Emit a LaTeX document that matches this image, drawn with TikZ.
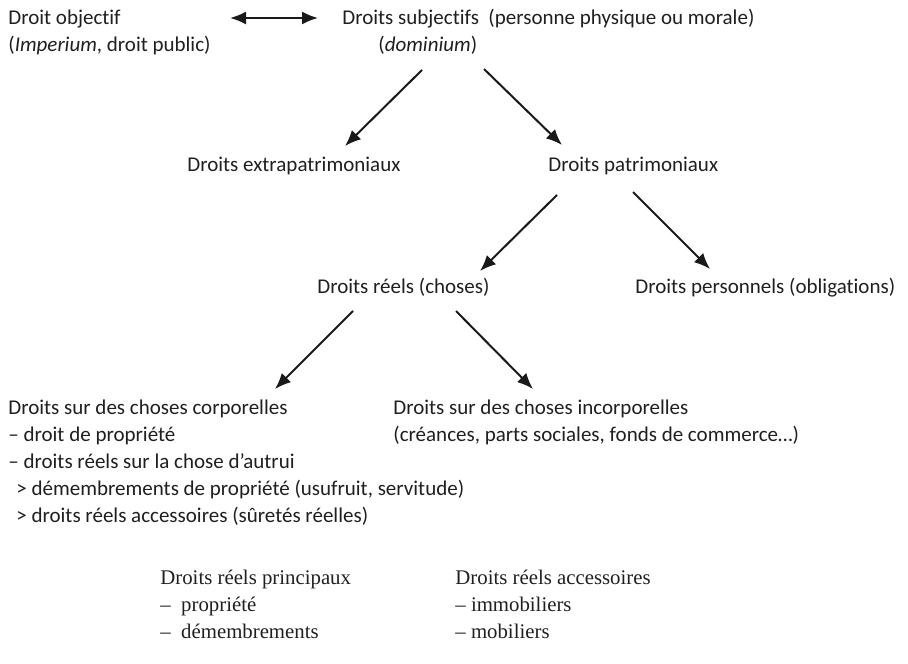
\documentclass[tikz,border=0pt]{standalone}
\usepackage{fontspec}
\setmainfont{Carlito}[Ligatures=NoCommon]
\newfontfamily\bookfont{Liberation Serif}
\usetikzlibrary{arrows.meta}
% base = baseline of the last line of a node
\tikzstyle{droit}=[inner sep=0pt, anchor=base west, align=left, text=black!88, font=\fontsize{10.5}{13.5}\selectfont]
\tikzstyle{droit livre}=[droit, font=\bookfont\fontsize{10.4}{13.5}\selectfont]
\tikzstyle{branch}=[->, line width=1pt, black!90]

\begin{document}
\begin{tikzpicture}[>={Latex[length=8pt,width=6.5pt]}, x=0.5pt, y=-0.5pt]
    \useasboundingbox (0,0) rectangle (908,663);

    % Droit objectif / droits subjectifs
    \draw (8,52) node[droit] (obj) {Droit objectif\\(\textit{Imperium}, droit public)};
    \draw (342,52) node[droit] (subj) {Droits subjectifs~ (personne physique ou morale)\\\hspace*{18pt}(\textit{dominium})};

    % Patrimoine
    \draw (187,171) node[droit] (extra) {Droits extrapatrimoniaux};
    \draw (548,171) node[droit] (patri) {Droits patrimoniaux};
    \draw (317,293) node[droit] (reels) {Droits réels (choses)};
    \draw (635,293) node[droit] (perso) {Droits personnels (obligations)};

    % Choses
    \draw (8,522) node[droit] (corp) {Droits sur des choses corporelles\\
      – droit de propriété\\
      – droits réels sur la chose d’autrui\\
      \hspace*{4pt}> démembrements de propriété (usufruit, servitude)\\
      \hspace*{4pt}> droits réels accessoires (sûretés réelles)};
    \draw (393,441) node[droit] (incorp) {Droits sur des choses incorporelles\\
      (créances, parts sociales, fonds de commerce…)};

    % Droits reels principaux / accessoires
    \draw (160,638) node[droit livre] (princ) {Droits réels principaux\\–\enspace propriété\\–\enspace démembrements};
    \draw (455,638) node[droit livre] (access) {Droits réels accessoires\\– immobiliers\\– mobiliers};

    % Fleches
    \coordinate (obj out) at (230,18);
    \coordinate (subj in) at (318,18);
    \coordinate (subj l) at (422,70);
    \coordinate (subj r) at (484,69);
    \coordinate (extra in) at (345,146);
    \coordinate (patri in) at (562,145);
    \coordinate (patri l) at (557,195);
    \coordinate (patri r) at (633,192);
    \coordinate (reels in) at (480,271);
    \coordinate (perso in) at (710,269);
    \coordinate (reels l) at (353,311);
    \coordinate (reels r) at (456,311);
    \coordinate (corp in) at (275,389);
    \coordinate (incorp in) at (533,389);

    \draw[branch,<->] (obj out) -- (subj in);
    \draw[branch] (subj l) -- (extra in);
    \draw[branch] (subj r) -- (patri in);
    \draw[branch] (patri l) -- (reels in);
    \draw[branch] (patri r) -- (perso in);
    \draw[branch] (reels l) -- (corp in);
    \draw[branch] (reels r) -- (incorp in);

\end{tikzpicture}
\end{document}
